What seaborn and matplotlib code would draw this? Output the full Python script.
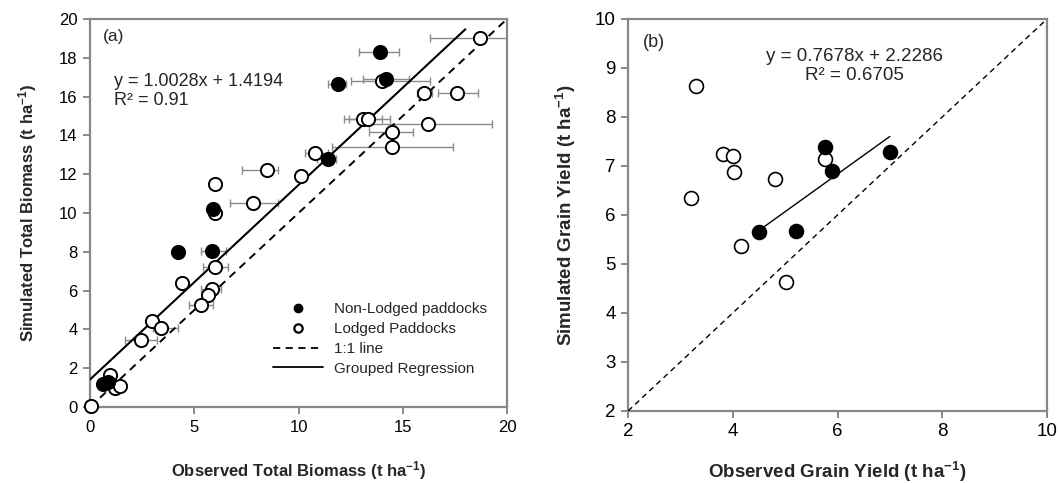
import numpy as np
import pandas as pd
import matplotlib
matplotlib.use("Agg")
import matplotlib.pyplot as plt
from matplotlib.lines import Line2D
import seaborn as sns

# ---------------- data: panel (a) total biomass ----------------
a_nl_obs = [13.9, 11.9, 14.2, 11.4, 5.9, 4.2, 5.85, 0.62, 0.87]
a_nl_sim = [18.3, 16.65, 16.9, 12.8, 10.2, 8.0, 8.05, 1.2, 1.3]
a_nl_lo = [12.9, 11.4, 13.1, 10.9, 5.7, np.nan, 5.3, 0.45, np.nan]
a_nl_hi = [14.8, 12.3, 15.3, 11.8, 6.1, np.nan, 6.5, 0.8, np.nan]

a_l_obs = [18.7, 14.0, 16.0, 17.6, 13.1, 13.35, 16.2, 14.5, 14.5, 10.8, 10.1, 8.5,
           6.0, 6.0, 7.8, 6.0, 4.4, 5.85, 5.65, 5.3, 2.95, 3.4, 2.45, 0.96, 1.2, 1.45, 0.05]
a_l_sim = [19.0, 16.8, 16.2, 16.2, 14.85, 14.85, 14.6, 14.2, 13.4, 13.1, 11.9, 12.2,
           11.5, 10.0, 10.5, 7.2, 6.4, 6.1, 5.75, 5.25, 4.45, 4.05, 3.45, 1.65, 1.0, 1.1, 0.05]
a_l_lo = [16.3, 12.5, 15.7, 16.7, 12.2, 12.4, 13.4, 13.4, 11.6, 10.3, np.nan, 7.3,
          5.9, 5.8, 6.7, 5.4, 4.3, 5.3, np.nan, 4.75, np.nan, 3.0, 1.7, np.nan, np.nan, np.nan, -0.1]
a_l_hi = [21.0, 16.3, 16.4, 18.6, 14.4, 14.0, 19.3, 15.5, 17.4, 11.4, np.nan, 9.0,
          6.1, 6.2, 9.0, 6.6, 4.5, 6.3, np.nan, 5.9, np.nan, 4.2, 3.2, np.nan, np.nan, np.nan, 0.2]

a_reg_coef = [1.0028, 1.4194]
a_reg_x = [0.0, 18.0]
a_axis = [0, 20]
a_xticks = [0, 5, 10, 15, 20]
a_yticks = [0, 2, 4, 6, 8, 10, 12, 14, 16, 18, 20]

# ---------------- data: panel (b) grain yield ----------------
b_nl_obs = [4.50, 5.20, 5.76, 5.90, 7.0]
b_nl_sim = [5.65, 5.68, 7.39, 6.90, 7.29]
b_l_obs = [3.30, 3.82, 4.01, 4.02, 4.81, 3.20, 4.16, 5.01, 5.76]
b_l_sim = [8.64, 7.24, 7.21, 6.87, 6.73, 6.34, 5.37, 4.64, 7.14]

b_reg_coef = [0.7678, 2.2286]
b_axis = [2, 10]
b_xticks = [2, 4, 6, 8, 10]
b_yticks = [2, 3, 4, 5, 6, 7, 8, 9, 10]

legend_labels = ["Non-Lodged paddocks", "Lodged Paddocks", "1:1 line", "Grouped Regression"]

# ---------------- style ----------------
sns.set_style("white")
plt.rcParams["font.family"] = ["Liberation Sans", "DejaVu Sans"]
plt.rcParams["mathtext.fontset"] = "custom"
plt.rcParams["mathtext.rm"] = "Liberation Sans"
plt.rcParams["mathtext.bf"] = "Liberation Sans:bold"
plt.rcParams["mathtext.it"] = "Liberation Sans:italic"

spine_c = "#888888"

fig = plt.figure(figsize=(10.58, 4.83), dpi=100)
ax1 = fig.add_axes([0.0851, 0.1573, 0.3941, 0.8033])
ax2 = fig.add_axes([0.5936, 0.1491, 0.3960, 0.8116])


def style_axes(ax, fs):
    for s in ax.spines.values():
        s.set_color(spine_c)
        s.set_linewidth(1.6)
        s.set_visible(True)
    ax.tick_params(axis="both", direction="out", length=5, width=1.4, color=spine_c,
                   labelsize=fs, labelcolor="black", pad=4)
    ax.tick_params(top=False, right=False, bottom=True, left=True)


def draw_err(ax, xs, ys, lo, hi):
    xs = np.array(xs, float); ys = np.array(ys, float)
    lo = np.array(lo, float); hi = np.array(hi, float)
    m = ~np.isnan(lo)
    ax.errorbar(xs[m], ys[m], xerr=[xs[m] - lo[m], hi[m] - xs[m]], fmt="none",
                ecolor="#8a8a8a", elinewidth=1.0, capsize=3, capthick=1.0, zorder=2)


# ---------------- panel (a) ----------------
ax = ax1
draw_err(ax, a_l_obs, a_l_sim, a_l_lo, a_l_hi)
draw_err(ax, a_nl_obs, a_nl_sim, a_nl_lo, a_nl_hi)

sns.lineplot(x=a_axis, y=a_axis, ax=ax, color="black", linewidth=1.4,
             linestyle=(0, (4, 3)), zorder=3)
reg_ax = np.array(a_reg_x)
sns.lineplot(x=reg_ax, y=a_reg_coef[0] * reg_ax + a_reg_coef[1], ax=ax, color="black",
             linewidth=1.5, zorder=3)

sns.scatterplot(x=a_l_obs, y=a_l_sim, ax=ax, marker="o", s=90, color="white",
                edgecolor="black", linewidth=1.4, zorder=4, clip_on=False)
sns.scatterplot(x=a_nl_obs, y=a_nl_sim, ax=ax, marker="o", s=90, color="black",
                edgecolor="black", linewidth=1.4, zorder=5, clip_on=False)

ax.set_xlim(a_axis)
ax.set_ylim(a_axis)
ax.set_xticks(a_xticks)
ax.set_yticks(a_yticks)
style_axes(ax, 12)
ax.set_xlabel(r"Observed Total Biomass (t ha$^{\mathbf{-1}}$)", fontsize=12,
              fontweight="bold", labelpad=18)
ax.set_ylabel(r"Simulated Total Biomass (t ha$^{\mathbf{-1}}$)", fontsize=12,
              fontweight="bold", labelpad=14)
ax.text(0.03, 0.955, "(a)", transform=ax.transAxes, fontsize=12.5, va="center", ha="left")
ax.text(0.057, 0.84, "y = %.4fx + %.4f" % (a_reg_coef[0], a_reg_coef[1]),
        transform=ax.transAxes, fontsize=13, va="center", ha="left")
ax.text(0.057, 0.79, "R² = 0.91", transform=ax.transAxes, fontsize=13, va="center", ha="left")

handles = [
    Line2D([], [], marker="o", color="black", linestyle="none", markersize=6,
           markerfacecolor="black"),
    Line2D([], [], marker="o", color="black", linestyle="none", markersize=6,
           markerfacecolor="white", markeredgewidth=1.6),
    Line2D([], [], color="black", linestyle=(0, (4, 3)), linewidth=1.3),
    Line2D([], [], color="black", linewidth=1.3),
]
ax.legend(handles, legend_labels, loc="lower left", bbox_to_anchor=(0.405, 0.045),
          frameon=False, fontsize=11, handlelength=3.3, handletextpad=0.7,
          labelspacing=0.38)

# ---------------- panel (b) ----------------
ax = ax2
sns.lineplot(x=b_axis, y=b_axis, ax=ax, color="black", linewidth=1.0,
             linestyle=(0, (4, 3)), zorder=3)
b_reg_x = np.array([min(b_nl_obs), max(b_nl_obs)])
sns.lineplot(x=b_reg_x, y=b_reg_coef[0] * b_reg_x + b_reg_coef[1], ax=ax, color="black",
             linewidth=1.0, zorder=3)
sns.scatterplot(x=b_l_obs, y=b_l_sim, ax=ax, marker="o", s=100, color="white",
                edgecolor="black", linewidth=1.2, zorder=4)
sns.scatterplot(x=b_nl_obs, y=b_nl_sim, ax=ax, marker="o", s=100, color="black",
                edgecolor="black", linewidth=1.2, zorder=5)

ax.set_xlim(b_axis)
ax.set_ylim(b_axis)
ax.set_xticks(b_xticks)
ax.set_yticks(b_yticks)
style_axes(ax, 13.5)
ax.set_xlabel(r"Observed Grain Yield (t ha$^{\mathbf{-1}}$)", fontsize=13.5,
              fontweight="bold", labelpad=14)
ax.set_ylabel(r"Simulated Grain Yield (t ha$^{\mathbf{-1}}$)", fontsize=13.5,
              fontweight="bold", labelpad=12)
ax.text(0.035, 0.94, "(b)", transform=ax.transAxes, fontsize=13, va="center", ha="left")
ax.text(0.54, 0.905, "y = %.4fx + %.4f" % (b_reg_coef[0], b_reg_coef[1]),
        transform=ax.transAxes, fontsize=13.5, va="center", ha="center")
ax.text(0.54, 0.855, "R² = 0.6705", transform=ax.transAxes, fontsize=13.5,
        va="center", ha="center")

fig.savefig("out.png", dpi=100)
